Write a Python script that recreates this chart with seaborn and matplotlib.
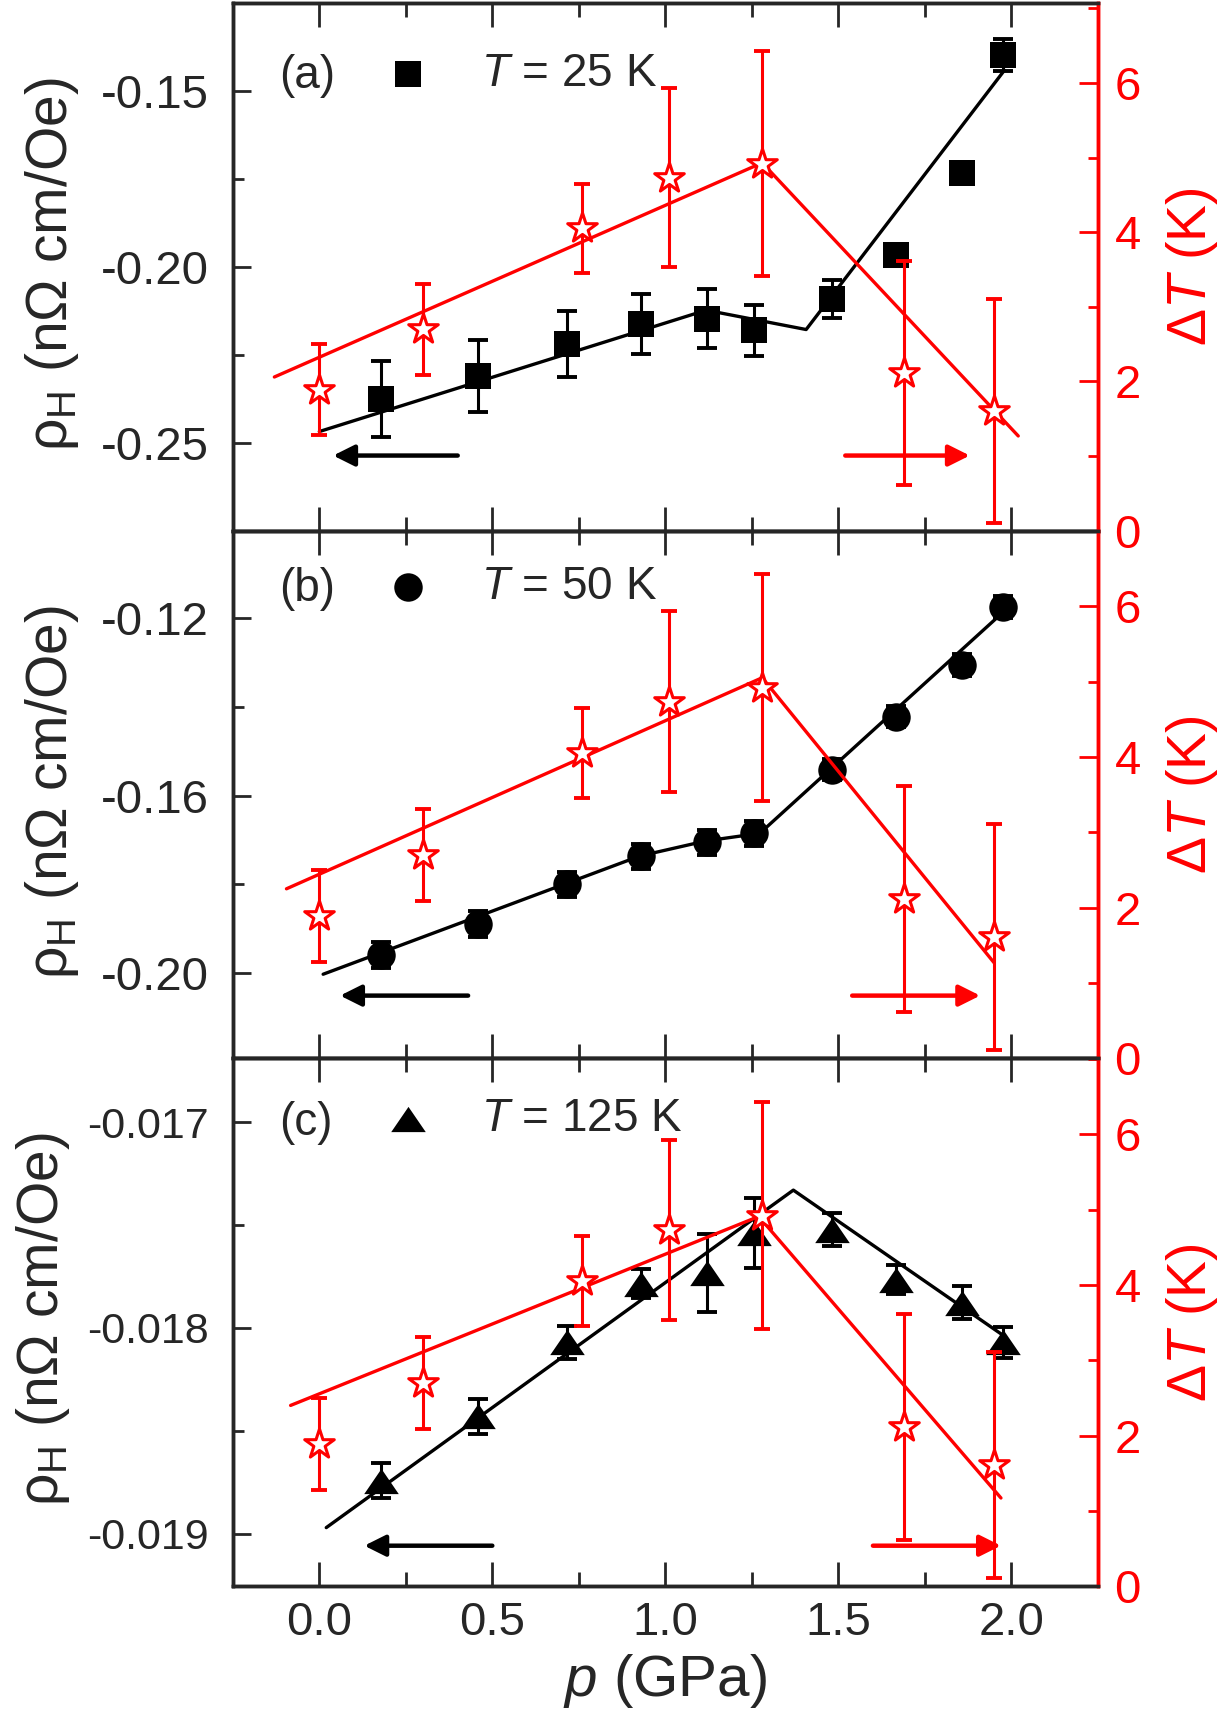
import numpy as np
import seaborn as sns
import matplotlib.pyplot as plt
from matplotlib.ticker import MultipleLocator, FormatStrFormatter

# pressure of the Hall points (GPa), same for the three temperatures
p_hall = [0.179, 0.46, 0.717, 0.929, 1.119, 1.256, 1.481, 1.668, 1.857, 1.977]

rho_25 = [-0.2375, -0.2310, -0.2219, -0.2162, -0.2147, -0.2180, -0.2092, -0.1966, -0.1732, -0.1397]
err_25 = [0.0108, 0.0102, 0.0094, 0.0086, 0.0083, 0.0072, 0.0054, 0.0012, 0.0012, 0.0045]
rho_50 = [-0.1960, -0.1890, -0.1800, -0.1737, -0.1705, -0.1685, -0.1541, -0.1422, -0.1305, -0.1174]
err_50 = [0.0030, 0.0029, 0.0028, 0.0029, 0.0028, 0.0028, 0.0024, 0.0024, 0.0024, 0.0024]
rho_125 = [-0.018743, -0.018429, -0.018070, -0.017785, -0.017734, -0.017539, -0.017522, -0.017765, -0.017878, -0.018070]
err_125 = [0.000085, 0.000085, 0.00008, 0.00007, 0.00019, 0.00017, 0.00008, 0.00007, 0.00008, 0.000075]

# guide lines through the Hall data
fit25_p = [0.0, 1.118, 1.407, 1.98]
fit25_rho = [-0.2468, -0.2123, -0.2178, -0.1441]
fit50_p = [0.011, 0.927, 1.118, 1.273, 1.98]
fit50_rho = [-0.2003, -0.1736, -0.1702, -0.1685, -0.1183]
fit125_p = [0.02, 1.37, 1.98]
fit125_rho = [-0.01897, -0.01733, -0.01804]

# delta T (right axis), same points in every panel
dT_p = [0.0, 0.30, 0.76, 1.01, 1.28, 1.69, 1.95]
dT = [1.89, 2.70, 4.05, 4.73, 4.92, 2.11, 1.61]
dT_err = [0.61, 0.61, 0.60, 1.20, 1.51, 1.50, 1.50]

fitdT_a_p = [-0.13, 1.28, 2.02]
fitdT_a = [2.06, 4.93, 1.27]
fitdT_b_p = [-0.095, 1.28, 1.95]
fitdT_b = [2.25, 5.05, 1.27]
fitdT_c_p = [-0.083, 1.27, 1.97]
fitdT_c = [2.40, 4.91, 1.17]

sns.set_style('ticks')
plt.rcParams['font.family'] = ['Liberation Sans', 'DejaVu Sans']
plt.rcParams['mathtext.fontset'] = 'custom'
plt.rcParams['mathtext.rm'] = 'Liberation Sans'
plt.rcParams['mathtext.it'] = 'Liberation Sans:italic'
plt.rcParams['axes.unicode_minus'] = False

# flat triangle like the original symbol
tri = [(0, 0.73), (-1, -0.73), (1, -0.73)]

panels = [
    dict(tag='(a)', rho=rho_25, err=err_25, fp=fit25_p, frho=fit25_rho, marker='s', s=340,
         label='$T$ = 25 K', ylim=(-0.275, -0.125), major=0.05, minor=0.025, fmt='%.2f',
         dfp=fitdT_a_p, dfit=fitdT_a, dylim=(0, 7.07), ty=0.862, ly=0.866, tsize=34, labx=-0.176,
         arr_y=0.1425, barr=(0.26, 0.116), rarr=(0.708, 0.852)),
    dict(tag='(b)', rho=rho_50, err=err_50, fp=fit50_p, frho=fit50_rho, marker='o', s=420,
         label='$T$ = 50 K', ylim=(-0.2193, -0.1002), major=0.04, minor=0.02, fmt='%.2f',
         dfp=fitdT_b_p, dfit=fitdT_b, dylim=(0, 7.0), ty=0.89, ly=0.893, tsize=34, labx=-0.176,
         arr_y=0.119, barr=(0.272, 0.124), rarr=(0.716, 0.864)),
    dict(tag='(c)', rho=rho_125, err=err_125, fp=fit125_p, frho=fit125_rho, marker=tri, s=620,
         label='$T$ = 125 K', ylim=(-0.019254, -0.01669), major=0.001, minor=0.0005, fmt='%.3f',
         dfp=fitdT_c_p, dfit=fitdT_c, dylim=(0, 7.01), ty=0.878, ly=0.885, tsize=31, labx=-0.186,
         arr_y=0.0765, barr=(0.30, 0.152), rarr=(0.74, 0.888)),
]

fig, axes = plt.subplots(3, 1, figsize=(12.19, 17.13), dpi=100, sharex=True)
fig.subplots_adjust(left=0.191, right=0.9006, top=0.9982, bottom=0.0741, hspace=0)

for ax, pn in zip(axes, panels):
    ax2 = ax.twinx()

    # black: Hall coefficient
    ax.errorbar(p_hall, pn['rho'], yerr=pn['err'], fmt='none', ecolor='black',
                elinewidth=2.2, capsize=7, capthick=2.8, zorder=2)
    sns.lineplot(x=pn['fp'], y=pn['frho'], sort=False, estimator=None, color='black',
                 lw=2.4, ax=ax, zorder=3)
    sns.scatterplot(x=p_hall, y=pn['rho'], marker=pn['marker'], s=pn['s'], color='black',
                    edgecolor='black', linewidth=0, ax=ax, zorder=4, label=pn['label'])

    # red: delta T
    ax2.errorbar(dT_p, dT, yerr=dT_err, fmt='none', ecolor='red', elinewidth=2.2,
                 capsize=6, capthick=2.8, zorder=2)
    sns.lineplot(x=pn['dfp'], y=pn['dfit'], sort=False, estimator=None, color='red',
                 lw=2.4, ax=ax2, zorder=3)
    sns.scatterplot(x=dT_p, y=dT, marker='*', s=500, facecolor='white', edgecolor='red',
                    linewidth=2.2, ax=ax2, zorder=4)

    ax.set_xlim(-0.25, 2.25)
    ax.set_ylim(*pn['ylim'])
    ax2.set_ylim(*pn['dylim'])

    ax.xaxis.set_major_locator(MultipleLocator(0.5))
    ax.xaxis.set_minor_locator(MultipleLocator(0.25))
    ax.xaxis.set_major_formatter(FormatStrFormatter('%.1f'))
    ax.yaxis.set_major_locator(MultipleLocator(pn['major']))
    ax.yaxis.set_minor_locator(MultipleLocator(pn['minor']))
    ax.yaxis.set_major_formatter(FormatStrFormatter(pn['fmt']))
    ax2.yaxis.set_major_locator(MultipleLocator(2))
    ax2.yaxis.set_minor_locator(MultipleLocator(1))

    ax.tick_params(axis='x', which='both', direction='in', top=True, bottom=True, width=2)
    ax.tick_params(axis='x', which='major', length=17, labelsize=34, pad=11)
    ax.tick_params(axis='x', which='minor', length=10)
    ax.tick_params(axis='y', which='both', direction='in', width=2)
    ax.tick_params(axis='y', which='major', length=13, labelsize=pn['tsize'], pad=17)
    ax.tick_params(axis='y', which='minor', length=8)
    ax2.tick_params(axis='y', which='both', direction='in', width=2, color='red', labelcolor='red')
    ax2.tick_params(axis='y', which='major', length=14, labelsize=34, pad=12)
    ax2.tick_params(axis='y', which='minor', length=7)

    for sp in ax.spines.values():
        sp.set_linewidth(2.5)
    for sp in ax2.spines.values():
        sp.set_linewidth(2.5)
    ax.spines['right'].set_color('red')
    ax2.spines['right'].set_color('red')

    ax.set_ylabel('ρ$_\\mathregular{H}$ (nΩ cm/Oe)', fontsize=41)
    ax.yaxis.set_label_coords(pn['labx'], 0.505)
    ax2.set_ylabel('Δ$\\it{T}$ (K)', fontsize=40, color='red')
    ax2.yaxis.set_label_coords(1.076, 0.5)

    ax.text(0.053, pn['ty'], pn['tag'], transform=ax.transAxes, fontsize=33, va='center')
    handles, labels = ax.get_legend_handles_labels()
    ax.legend(handles, labels, loc='center left', bbox_to_anchor=(0.176, pn['ly']),
              frameon=False, fontsize=33, handlelength=1.0, handletextpad=1.1,
              borderpad=0, borderaxespad=0)

    ax.annotate('', xy=(pn['barr'][1], pn['arr_y']), xytext=(pn['barr'][0], pn['arr_y']),
                xycoords='axes fraction',
                arrowprops=dict(arrowstyle='-|>', lw=3.2, color='black', mutation_scale=32,
                                shrinkA=0, shrinkB=0))
    ax.annotate('', xy=(pn['rarr'][1], pn['arr_y']), xytext=(pn['rarr'][0], pn['arr_y']),
                xycoords='axes fraction',
                arrowprops=dict(arrowstyle='-|>', lw=3.2, color='red', mutation_scale=32,
                                shrinkA=0, shrinkB=0))

axes[-1].set_xlabel('$\\it{p}$ (GPa)', fontsize=42)
axes[-1].xaxis.set_label_coords(0.5, -0.125)

fig.savefig('out.png', dpi=100)
